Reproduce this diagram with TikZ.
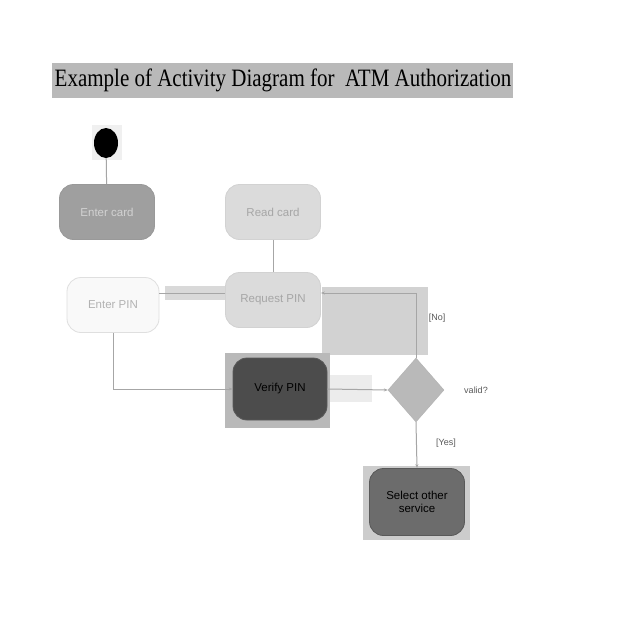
\documentclass[tikz,border=0pt]{standalone}
\usepackage{fontspec}
\setmainfont{Liberation Serif}
\setsansfont{Liberation Sans}
\usetikzlibrary{shapes.geometric,arrows.meta}
\begin{document}
\begin{tikzpicture}[x=1pt,y=-1pt,
  act/.style={draw=#1, rounded corners=14pt, minimum width=95pt, minimum height=55pt, font=\sffamily\fontsize{11.5}{12.5}\selectfont, align=center, line width=0.8pt},
  conn/.style={draw=gray!70, line width=1pt},
  lbl/.style={font=\sffamily\fontsize{9}{10}\selectfont, text=gray!70!black}]
\useasboundingbox (0,0) rectangle (640,640);
\fill[white] (0,0) rectangle (640,640);
% title
\fill[gray!55] (52,63) rectangle (513,98);
\node (title) at (283,80) {\scalebox{0.84}[1]{\fontsize{25}{28}\selectfont Example of Activity Diagram for\ \ ATM Authorization}};
% background bands
\fill[gray!12] (92,125) rectangle (122,160);
\fill[gray!30] (165,286) rectangle (226,300);
\fill[gray!35] (322,287) rectangle (428,355);
\fill[gray!55] (225,353) rectangle (330,428);
\fill[gray!15] (330,375) rectangle (372,402);
\fill[gray!40] (363,466) rectangle (470,540);
% start
\node[ellipse, fill=black, minimum width=24pt, minimum height=30pt, inner sep=0pt] (start) at (106,143) {};
% activities
\node[act=gray!80, fill=gray!75, text=gray!35] (entercard) at (107,212) {Enter card};
\node[act=gray!35, fill=gray!28, text=gray!70] (readcard) at (273,212) {Read card};
\node[act=gray!25, fill=gray!5, text=gray!60, minimum width=92pt] (enterpin) at (113,305) {Enter PIN};
\node[act=gray!35, fill=gray!28, text=gray!70] (reqpin) at (273,300) {Request PIN};
\node[act=gray!70!black, fill=gray!60!black, text=black, minimum width=94pt, minimum height=62pt] (verify) at (280,389) {Verify PIN};
\node[diamond, fill=gray!55, draw=gray!60, minimum width=56pt, minimum height=64pt, inner sep=0pt, aspect=0.9] (valid) at (416,390) {};
\node[act=gray!70!black, fill=gray!85!black, text=black, minimum width=95pt, minimum height=67pt] (select) at (417,502) {Select other\\service};
% labels
\node[lbl] (lvalid) at (476,390) {valid?};
\node[lbl] (lno) at (437,318) {[No]};
\node[lbl] (lyes) at (446,443) {[Yes]};
% connectors
\draw[conn] (start) -- (entercard);
\draw[conn] (readcard) -- (reqpin);
\draw[conn] (reqpin.west |- 0,293) -- (enterpin.east |- 0,293);
\draw[conn,-{Stealth[length=4pt]}] (enterpin.south) |- (verify.west);
\draw[conn,-{Stealth[length=4pt]}] (verify.east) -- (valid.west);
\draw[conn,-{Stealth[length=4pt]}] (valid.north) |- (reqpin.east |- 0,293);
\draw[conn,-{Stealth[length=4pt]}] (valid.south) -- (select.north);
\end{tikzpicture}
\end{document}
